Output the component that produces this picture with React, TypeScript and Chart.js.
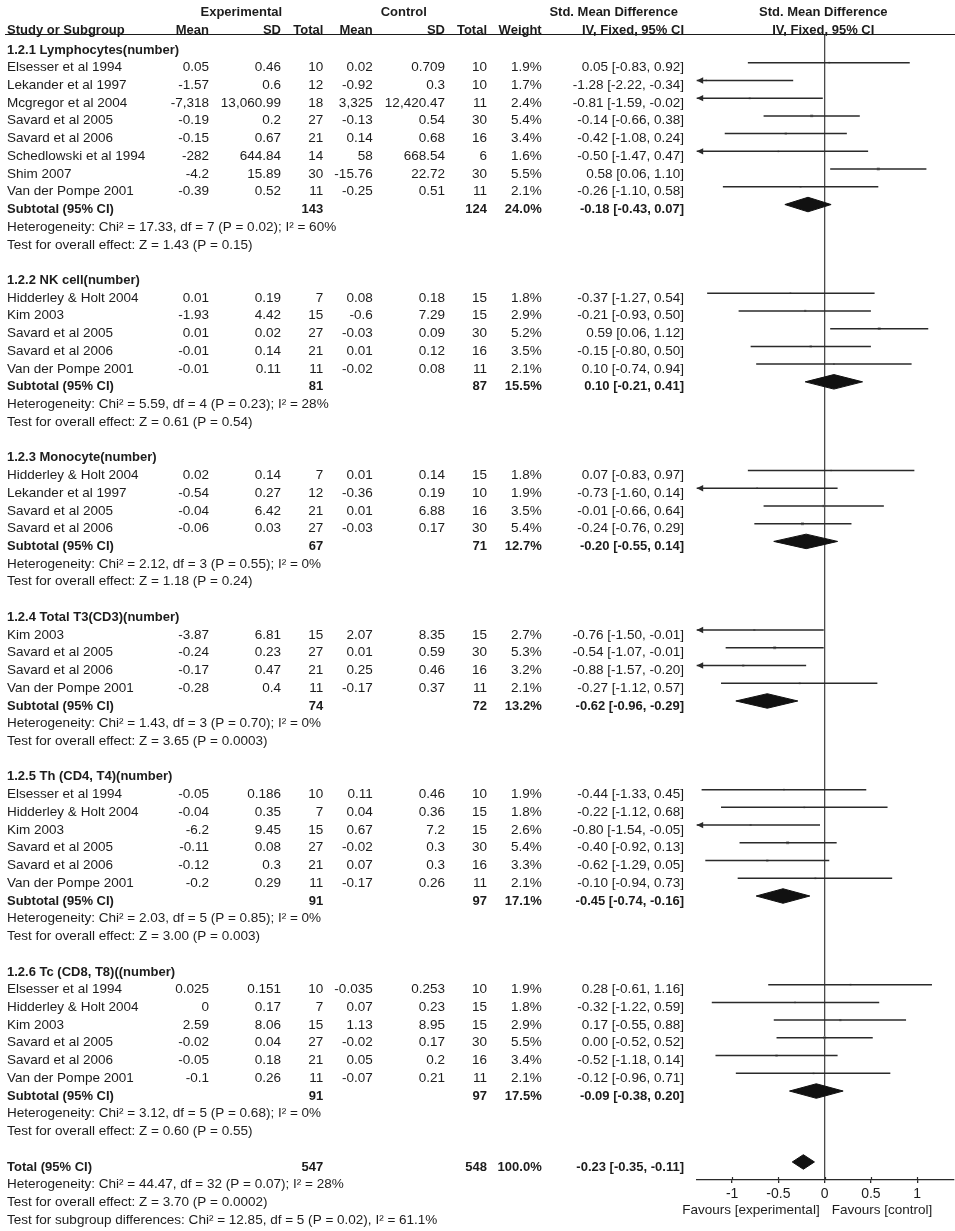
import React, { useEffect, useRef } from "react";
import { Chart, registerables } from "chart.js";

Chart.register(...registerables);

// ---------------- DATA ----------------
const GROUP_TITLES = [
  "1.2.1 Lymphocytes(number)",
  "1.2.2 NK cell(number)",
  "1.2.3 Monocyte(number)",
  "1.2.4 Total T3(CD3)(number)",
  "1.2.5 Th (CD4, T4)(number)",
  "1.2.6 Tc (CD8, T8)((number)",
];

const STUDY_GROUP = [
  0, 0, 0, 0, 0, 0, 0, 0,
  1, 1, 1, 1, 1,
  2, 2, 2, 2,
  3, 3, 3, 3,
  4, 4, 4, 4, 4, 4,
  5, 5, 5, 5, 5, 5,
];

const STUDY_NAMES = [
  "Elsesser et al 1994", "Lekander et al 1997", "Mcgregor et al 2004", "Savard et al 2005",
  "Savard et al 2006", "Schedlowski et al 1994", "Shim 2007", "Van der Pompe 2001",
  "Hidderley & Holt 2004", "Kim 2003", "Savard et al 2005", "Savard et al 2006", "Van der Pompe 2001",
  "Hidderley & Holt 2004", "Lekander et al 1997", "Savard et al 2005", "Savard et al 2006",
  "Kim 2003", "Savard et al 2005", "Savard et al 2006", "Van der Pompe 2001",
  "Elsesser et al 1994", "Hidderley & Holt 2004", "Kim 2003", "Savard et al 2005", "Savard et al 2006", "Van der Pompe 2001",
  "Elsesser et al 1994", "Hidderley & Holt 2004", "Kim 2003", "Savard et al 2005", "Savard et al 2006", "Van der Pompe 2001",
];

const EXP_MEAN = [
  "0.05", "-1.57", "-7,318", "-0.19", "-0.15", "-282", "-4.2", "-0.39",
  "0.01", "-1.93", "0.01", "-0.01", "-0.01",
  "0.02", "-0.54", "-0.04", "-0.06",
  "-3.87", "-0.24", "-0.17", "-0.28",
  "-0.05", "-0.04", "-6.2", "-0.11", "-0.12", "-0.2",
  "0.025", "0", "2.59", "-0.02", "-0.05", "-0.1",
];

const EXP_SD = [
  "0.46", "0.6", "13,060.99", "0.2", "0.67", "644.84", "15.89", "0.52",
  "0.19", "4.42", "0.02", "0.14", "0.11",
  "0.14", "0.27", "6.42", "0.03",
  "6.81", "0.23", "0.47", "0.4",
  "0.186", "0.35", "9.45", "0.08", "0.3", "0.29",
  "0.151", "0.17", "8.06", "0.04", "0.18", "0.26",
];

const EXP_N = [
  10, 12, 18, 27, 21, 14, 30, 11,
  7, 15, 27, 21, 11,
  7, 12, 21, 27,
  15, 27, 21, 11,
  10, 7, 15, 27, 21, 11,
  10, 7, 15, 27, 21, 11,
];

const CTRL_MEAN = [
  "0.02", "-0.92", "3,325", "-0.13", "0.14", "58", "-15.76", "-0.25",
  "0.08", "-0.6", "-0.03", "0.01", "-0.02",
  "0.01", "-0.36", "0.01", "-0.03",
  "2.07", "0.01", "0.25", "-0.17",
  "0.11", "0.04", "0.67", "-0.02", "0.07", "-0.17",
  "-0.035", "0.07", "1.13", "-0.02", "0.05", "-0.07",
];

const CTRL_SD = [
  "0.709", "0.3", "12,420.47", "0.54", "0.68", "668.54", "22.72", "0.51",
  "0.18", "7.29", "0.09", "0.12", "0.08",
  "0.14", "0.19", "6.88", "0.17",
  "8.35", "0.59", "0.46", "0.37",
  "0.46", "0.36", "7.2", "0.3", "0.3", "0.26",
  "0.253", "0.23", "8.95", "0.17", "0.2", "0.21",
];

const CTRL_N = [
  10, 10, 11, 30, 16, 6, 30, 11,
  15, 15, 30, 16, 11,
  15, 10, 16, 30,
  15, 30, 16, 11,
  10, 15, 15, 30, 16, 11,
  10, 15, 15, 30, 16, 11,
];

const WEIGHT = [
  1.9, 1.7, 2.4, 5.4, 3.4, 1.6, 5.5, 2.1,
  1.8, 2.9, 5.2, 3.5, 2.1,
  1.8, 1.9, 3.5, 5.4,
  2.7, 5.3, 3.2, 2.1,
  1.9, 1.8, 2.6, 5.4, 3.3, 2.1,
  1.9, 1.8, 2.9, 5.5, 3.4, 2.1,
];

const SMD = [
  0.05, -1.28, -0.81, -0.14, -0.42, -0.5, 0.58, -0.26,
  -0.37, -0.21, 0.59, -0.15, 0.1,
  0.07, -0.73, -0.01, -0.24,
  -0.76, -0.54, -0.88, -0.27,
  -0.44, -0.22, -0.8, -0.4, -0.62, -0.1,
  0.28, -0.32, 0.17, 0.0, -0.52, -0.12,
];

const CI_LO = [
  -0.83, -2.22, -1.59, -0.66, -1.08, -1.47, 0.06, -1.1,
  -1.27, -0.93, 0.06, -0.8, -0.74,
  -0.83, -1.6, -0.66, -0.76,
  -1.5, -1.07, -1.57, -1.12,
  -1.33, -1.12, -1.54, -0.92, -1.29, -0.94,
  -0.61, -1.22, -0.55, -0.52, -1.18, -0.96,
];

const CI_HI = [
  0.92, -0.34, -0.02, 0.38, 0.24, 0.47, 1.1, 0.58,
  0.54, 0.5, 1.12, 0.5, 0.94,
  0.97, 0.14, 0.64, 0.29,
  -0.01, -0.01, -0.2, 0.57,
  0.45, 0.68, -0.05, 0.13, 0.05, 0.73,
  1.16, 0.59, 0.88, 0.52, 0.14, 0.71,
];

const GROUP_EXP_N = [143, 81, 67, 74, 91, 91];
const GROUP_CTRL_N = [124, 87, 71, 72, 97, 97];
const GROUP_WEIGHT = [24.0, 15.5, 12.7, 13.2, 17.1, 17.5];
const GROUP_SMD = [-0.18, 0.1, -0.2, -0.62, -0.45, -0.09];
const GROUP_LO = [-0.43, -0.21, -0.55, -0.96, -0.74, -0.38];
const GROUP_HI = [0.07, 0.41, 0.14, -0.29, -0.16, 0.2];
const GROUP_CHI2 = ["17.33", "5.59", "2.12", "1.43", "2.03", "3.12"];
const GROUP_DF = [7, 4, 3, 3, 5, 5];
const GROUP_HET_P = ["0.02", "0.23", "0.55", "0.70", "0.85", "0.68"];
const GROUP_I2 = ["60", "28", "0", "0", "0", "0"];
const GROUP_Z = ["1.43", "0.61", "1.18", "3.65", "3.00", "0.60"];
const GROUP_Z_P = ["0.15", "0.54", "0.24", "0.0003", "0.003", "0.55"];

const TOTAL_EXP_N = 547;
const TOTAL_CTRL_N = 548;
const TOTAL_WEIGHT = 100.0;
const TOTAL_SMD = -0.23;
const TOTAL_LO = -0.35;
const TOTAL_HI = -0.11;
const TOTAL_CHI2 = "44.47";
const TOTAL_DF = 32;
const TOTAL_HET_P = "0.07";
const TOTAL_I2 = "28";
const TOTAL_Z = "3.70";
const TOTAL_Z_P = "0.0002";
const SUBGROUP_CHI2 = "12.85";
const SUBGROUP_DF = 5;
const SUBGROUP_P = "0.02";
const SUBGROUP_I2 = "61.1";

const X_TICKS = [-1, -0.5, 0, 0.5, 1];
const X_MIN = -1.383;
const X_MAX = 1.395;

const HEADER_TOP = ["Experimental", "Control", "Std. Mean Difference", "Std. Mean Difference"];
const HEADER_COLS = ["Study or Subgroup", "Mean", "SD", "Total", "Mean", "SD", "Total", "Weight", "IV, Fixed, 95% CI", "IV, Fixed, 95% CI"];
const FAVOURS_LEFT = "Favours [experimental]";
const FAVOURS_RIGHT = "Favours [control]";

// ---------------- LAYOUT / STYLE ----------------
const W = 955;
const H = 1231;
const PLOT_LEFT = 696.7;
const PLOT_TOP = 34;
const PLOT_BOTTOM = 1180;
const ROW_PX = 17.73;
const ROW0_PX = 9.51;
const TEXT_DY = 5;
const Y_MIN = (PLOT_TOP - ROW0_PX) / ROW_PX;
const Y_MAX = (PLOT_BOTTOM - ROW0_PX) / ROW_PX;
const DIAMOND_HALF = 0.41;
const FONT = '"Liberation Sans", Arial, Helvetica, sans-serif';
const FONT_SIZE = 13;
const SX_REG = 1.04;
const SX_BOLD = 1.0;
const TEXT_COLOR = "#1c1c1c";
const LINE_COLOR = "#2a2a2a";
const POINT_COLOR = "#9a9a9a";
const ZERO_COLOR = "#4a4a4a";

const COL = {
  name: 7,
  expMean: 209,
  expSD: 281,
  expN: 323.3,
  ctrlMean: 372.7,
  ctrlSD: 445,
  ctrlN: 487,
  weight: 541.7,
  ci: 684,
};
const EXP_CENTER = 241.3;
const CTRL_CENTER = 403.8;
const SMD_CENTER = 613.7;
const PLOT_CENTER = 823.3;
const HEADER_ROW_A = -0.13;
const HEADER_ROW_B = 0.87;

// ---------------- ROWS ----------------
const ROWS = (() => {
  let r = 2;
  const groupHeader: number[] = [];
  const studyRow: number[] = [];
  const subRow: number[] = [];
  let s = 0;
  GROUP_TITLES.forEach((_, g) => {
    groupHeader.push(r++);
    while (s < STUDY_GROUP.length && STUDY_GROUP[s] === g) {
      studyRow.push(r++);
      s++;
    }
    subRow.push(r);
    r += 4;
  });
  return { groupHeader, studyRow, subRow, totalRow: r };
})();

const fmt2 = (v: number) => (Object.is(v, -0) ? 0 : v).toFixed(2);
const ciText = (e: number, lo: number, hi: number) => `${fmt2(e)} [${fmt2(lo)}, ${fmt2(hi)}]`;
const hetText = (chi: string, df: number, p: string, i2: string) =>
  `Heterogeneity: Chi\u00B2 = ${chi}, df = ${df} (P = ${p}); I\u00B2 = ${i2}%`;
const zText = (z: string, p: string) => `Test for overall effect: Z = ${z} (P = ${p})`;

function drawText(
  ctx: CanvasRenderingContext2D,
  s: string,
  x: number,
  y: number,
  align: CanvasTextAlign,
  bold = false
) {
  ctx.save();
  ctx.font = `${bold ? "bold " : ""}${FONT_SIZE}px ${FONT}`;
  ctx.textAlign = align;
  ctx.textBaseline = "middle";
  ctx.fillStyle = TEXT_COLOR;
  ctx.translate(x, y);
  ctx.scale(bold ? SX_BOLD : SX_REG, 1);
  ctx.fillText(s, 0, 0);
  ctx.restore();
}

const forestPlugin = {
  id: "forestText",
  afterDatasetsDraw(chart: any) {
    const ctx: CanvasRenderingContext2D = chart.ctx;
    const xs = chart.scales.x;
    const ys = chart.scales.y;
    const ca = chart.chartArea;
    ctx.save();
    ctx.fillStyle = LINE_COLOR;
    CI_LO.forEach((lo, i) => {
      if (lo < xs.min) {
        const y = ys.getPixelForValue(ROWS.studyRow[i]);
        ctx.beginPath();
        ctx.moveTo(ca.left, y);
        ctx.lineTo(ca.left + 6.5, y - 3.2);
        ctx.lineTo(ca.left + 6.5, y + 3.2);
        ctx.closePath();
        ctx.fill();
      }
    });
    // upward halves of the axis ticks
    ctx.strokeStyle = LINE_COLOR;
    ctx.lineWidth = 1.2;
    X_TICKS.forEach((t) => {
      const x = Math.round(xs.getPixelForValue(t)) + 0.5;
      ctx.beginPath();
      ctx.moveTo(x, ca.bottom - 3);
      ctx.lineTo(x, ca.bottom);
      ctx.stroke();
    });
    ctx.restore();
  },
  afterDraw(chart: any) {
    const ctx: CanvasRenderingContext2D = chart.ctx;
    const xs = chart.scales.x;
    const ys = chart.scales.y;
    const ca = chart.chartArea;
    const ty = (r: number) => ys.getPixelForValue(r) + TEXT_DY;

    // headers
    const ya = ty(HEADER_ROW_A);
    drawText(ctx, HEADER_TOP[0], EXP_CENTER, ya, "center", true);
    drawText(ctx, HEADER_TOP[1], CTRL_CENTER, ya, "center", true);
    drawText(ctx, HEADER_TOP[2], SMD_CENTER, ya, "center", true);
    drawText(ctx, HEADER_TOP[3], PLOT_CENTER, ya, "center", true);
    const yb = ty(HEADER_ROW_B);
    drawText(ctx, HEADER_COLS[0], COL.name, yb, "left", true);
    drawText(ctx, HEADER_COLS[1], COL.expMean, yb, "right", true);
    drawText(ctx, HEADER_COLS[2], COL.expSD, yb, "right", true);
    drawText(ctx, HEADER_COLS[3], COL.expN, yb, "right", true);
    drawText(ctx, HEADER_COLS[4], COL.ctrlMean, yb, "right", true);
    drawText(ctx, HEADER_COLS[5], COL.ctrlSD, yb, "right", true);
    drawText(ctx, HEADER_COLS[6], COL.ctrlN, yb, "right", true);
    drawText(ctx, HEADER_COLS[7], COL.weight, yb, "right", true);
    drawText(ctx, HEADER_COLS[8], COL.ci, yb, "right", true);
    drawText(ctx, HEADER_COLS[9], PLOT_CENTER, yb, "center", true);

    ctx.save();
    ctx.strokeStyle = "#1a1a1a";
    ctx.lineWidth = 1.2;
    ctx.beginPath();
    ctx.moveTo(5, ca.top + 0.5);
    ctx.lineTo(W, ca.top + 0.5);
    ctx.stroke();
    ctx.restore();

    // groups
    GROUP_TITLES.forEach((title, g) => {
      drawText(ctx, title, COL.name, ty(ROWS.groupHeader[g]), "left", true);
      const sr = ROWS.subRow[g];
      drawText(ctx, "Subtotal (95% CI)", COL.name, ty(sr), "left", true);
      drawText(ctx, String(GROUP_EXP_N[g]), COL.expN, ty(sr), "right", true);
      drawText(ctx, String(GROUP_CTRL_N[g]), COL.ctrlN, ty(sr), "right", true);
      drawText(ctx, GROUP_WEIGHT[g].toFixed(1) + "%", COL.weight, ty(sr), "right", true);
      drawText(ctx, ciText(GROUP_SMD[g], GROUP_LO[g], GROUP_HI[g]), COL.ci, ty(sr), "right", true);
      drawText(ctx, hetText(GROUP_CHI2[g], GROUP_DF[g], GROUP_HET_P[g], GROUP_I2[g]), COL.name, ty(sr + 1), "left");
      drawText(ctx, zText(GROUP_Z[g], GROUP_Z_P[g]), COL.name, ty(sr + 2), "left");
    });

    // studies
    STUDY_NAMES.forEach((name, i) => {
      const y = ty(ROWS.studyRow[i]);
      drawText(ctx, name, COL.name, y, "left");
      drawText(ctx, EXP_MEAN[i], COL.expMean, y, "right");
      drawText(ctx, EXP_SD[i], COL.expSD, y, "right");
      drawText(ctx, String(EXP_N[i]), COL.expN, y, "right");
      drawText(ctx, CTRL_MEAN[i], COL.ctrlMean, y, "right");
      drawText(ctx, CTRL_SD[i], COL.ctrlSD, y, "right");
      drawText(ctx, String(CTRL_N[i]), COL.ctrlN, y, "right");
      drawText(ctx, WEIGHT[i].toFixed(1) + "%", COL.weight, y, "right");
      drawText(ctx, ciText(SMD[i], CI_LO[i], CI_HI[i]), COL.ci, y, "right");
    });

    // total
    const tr = ROWS.totalRow;
    drawText(ctx, "Total (95% CI)", COL.name, ty(tr), "left", true);
    drawText(ctx, String(TOTAL_EXP_N), COL.expN, ty(tr), "right", true);
    drawText(ctx, String(TOTAL_CTRL_N), COL.ctrlN, ty(tr), "right", true);
    drawText(ctx, TOTAL_WEIGHT.toFixed(1) + "%", COL.weight, ty(tr), "right", true);
    drawText(ctx, ciText(TOTAL_SMD, TOTAL_LO, TOTAL_HI), COL.ci, ty(tr), "right", true);
    drawText(ctx, hetText(TOTAL_CHI2, TOTAL_DF, TOTAL_HET_P, TOTAL_I2), COL.name, ty(tr + 1), "left");
    drawText(ctx, zText(TOTAL_Z, TOTAL_Z_P), COL.name, ty(tr + 2), "left");
    drawText(
      ctx,
      `Test for subgroup differences: Chi\u00B2 = ${SUBGROUP_CHI2}, df = ${SUBGROUP_DF} (P = ${SUBGROUP_P}), I\u00B2 = ${SUBGROUP_I2}%`,
      COL.name,
      ty(tr + 3),
      "left"
    );

    // favours labels
    const x0 = xs.getPixelForValue(0);
    drawText(ctx, FAVOURS_LEFT, x0 - 5, 1210, "right");
    drawText(ctx, FAVOURS_RIGHT, x0 + 7, 1210, "left");
  },
};

function buildDatasets() {
  const ds: any[] = [];
  // CI whiskers
  STUDY_NAMES.forEach((_, i) => {
    const r = ROWS.studyRow[i];
    ds.push({
      type: "line",
      data: [
        { x: CI_LO[i], y: r },
        { x: CI_HI[i], y: r },
      ],
      borderColor: LINE_COLOR,
      borderWidth: 1.5,
      pointRadius: 0,
      fill: false,
    });
  });
  // study estimates
  ds.push({
    type: "line",
    showLine: false,
    data: SMD.map((v, i) => ({ x: v, y: ROWS.studyRow[i] })),
    pointStyle: "rect",
    pointRadius: WEIGHT.map((w) => 0.9 * Math.sqrt(w)),
    pointHoverRadius: WEIGHT.map((w) => 0.9 * Math.sqrt(w)),
    pointBackgroundColor: POINT_COLOR,
    pointBorderWidth: 0,
    borderWidth: 0,
  });
  // diamonds
  const diamond = (e: number, lo: number, hi: number, r: number) => ({
    type: "line",
    data: [
      { x: lo, y: r },
      { x: e, y: r - DIAMOND_HALF },
      { x: hi, y: r },
      { x: e, y: r + DIAMOND_HALF },
      { x: lo, y: r },
    ],
    borderColor: "#111",
    backgroundColor: "#111",
    borderWidth: 1,
    pointRadius: 0,
    tension: 0,
    fill: "shape",
  });
  GROUP_SMD.forEach((e, g) => ds.push(diamond(e, GROUP_LO[g], GROUP_HI[g], ROWS.subRow[g])));
  ds.push(diamond(TOTAL_SMD, TOTAL_LO, TOTAL_HI, ROWS.totalRow));
  return ds;
}

export default function App() {
  const ref = useRef<HTMLCanvasElement>(null);
  useEffect(() => {
    if (!ref.current) return;
    const chart = new Chart(ref.current, {
      type: "line",
      data: { datasets: buildDatasets() },
      options: {
        animation: false,
        responsive: false,
        devicePixelRatio: 1,
        layout: { padding: { left: PLOT_LEFT, right: 0, top: PLOT_TOP, bottom: 0 } },
        plugins: { legend: { display: false }, tooltip: { enabled: false } },
        events: [],
        scales: {
          x: {
            type: "linear",
            min: X_MIN,
            max: X_MAX,
            afterBuildTicks: (s: any) => {
              s.ticks = X_TICKS.map((v) => ({ value: v }));
            },
            afterFit: (s: any) => {
              s.height = H - PLOT_BOTTOM;
            },
            ticks: {
              includeBounds: false,
              autoSkip: false,
              maxRotation: 0,
              padding: 3,
              color: TEXT_COLOR,
              font: { family: FONT, size: 14 },
              callback: (v: any) => String(v),
            },
            grid: {
              drawOnChartArea: true,
              color: (c: any) => (c.tick && c.tick.value === 0 ? ZERO_COLOR : "rgba(0,0,0,0)"),
              lineWidth: 1.3,
              tickLength: 3,
              tickColor: LINE_COLOR,
            },
            border: { display: true, color: LINE_COLOR, width: 1.3 },
          },
          y: {
            type: "linear",
            display: false,
            reverse: true,
            min: Y_MIN,
            max: Y_MAX,
          },
        },
      } as any,
      plugins: [forestPlugin],
    });
    return () => chart.destroy();
  }, []);
  return (
    <div style={{ position: "absolute", left: 0, top: 0, width: W, height: H, background: "#fff" }}>
      <canvas ref={ref} width={W} height={H} style={{ display: "block" }} />
    </div>
  );
}
